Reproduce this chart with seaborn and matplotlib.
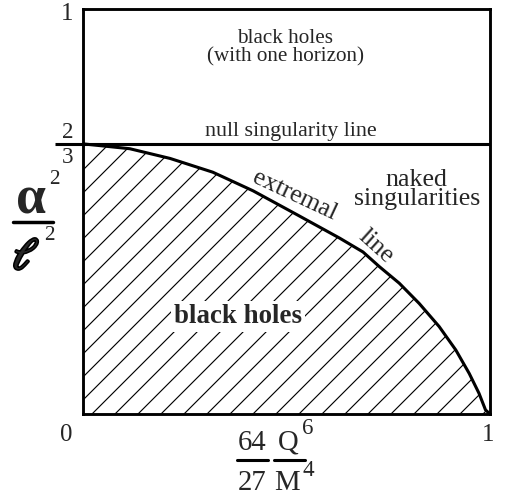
import matplotlib
matplotlib.use("Agg")
import matplotlib.pyplot as plt
import matplotlib.patheffects as pe
from matplotlib.lines import Line2D
import seaborn as sns
import pandas as pd

# Extremal line: alpha^2/l^2 versus 64 Q^6 / (27 M^4)
charge_ratio = [0.0, 0.115, 0.214, 0.319, 0.418, 0.526, 0.631, 0.688, 0.728,
                0.777, 0.826, 0.875, 0.916, 0.949, 0.973, 0.989, 1.0]
alpha_ratio = [0.667, 0.655, 0.631, 0.597, 0.551, 0.492, 0.434, 0.400, 0.364,
               0.323, 0.273, 0.216, 0.158, 0.100, 0.051, 0.010, 0.0]
null_line_value = 2 / 3
axis_limits = [0, 1]

DPI = 138
W, H = 506, 501

sns.set_theme(style="white")
plt.rcParams["font.family"] = ["Liberation Serif", "DejaVu Serif"]
plt.rcParams["hatch.linewidth"] = 0.6
plt.rcParams["hatch.color"] = "black"

fig = plt.figure(figsize=(W / DPI, H / DPI), dpi=DPI)
fig.patch.set_facecolor("white")

def fx(px):
    return px / W

def fy(py):
    return 1 - py / H

ax = fig.add_axes([fx(83), fy(414), fx(490) - fx(83), fy(9) - fy(414)])
ax.set_facecolor("white")

df = pd.DataFrame({"q": charge_ratio, "a": alpha_ratio})

# hatched black-hole region under the extremal line
ax.fill_between(df["q"], df["a"], 0, facecolor="none", edgecolor="black",
                hatch="//", linewidth=0)
sns.lineplot(data=df, x="q", y="a", ax=ax, color="black", linewidth=1.6,
             sort=False, estimator=None)

# null singularity line, extending out to form the 2/3 fraction bar
ax.plot([-0.069, 1], [null_line_value, null_line_value], color="black",
        linewidth=1.6, clip_on=False, solid_capstyle="butt")

ax.set_xlim(axis_limits)
ax.set_ylim(axis_limits)
ax.set_xticks([])
ax.set_yticks([])
ax.set_xlabel("")
ax.set_ylabel("")
for s in ax.spines.values():
    s.set_color("black")
    s.set_linewidth(1.5)
    s.set_visible(True)

# region labels
ax.text(0.497, 0.905, "black holes\n(with one horizon)", ha="center", va="center",
        fontsize=11, linespacing=0.95)
ax.text(0.51, null_line_value + 0.008, "null singularity line", ha="center",
        va="bottom", fontsize=11.5)
ax.text(0.82, 0.555, "naked\nsingularities", ha="center", va="center",
        fontsize=13.5, linespacing=0.82)
ax.text(0.52, 0.540, "extremal", ha="center", va="center", fontsize=13.5,
        rotation=-25, rotation_mode="anchor")
ax.text(0.72, 0.414, "line", ha="center", va="center", fontsize=13.5,
        rotation=-42, rotation_mode="anchor")
ax.text(0.38, 0.24, "black holes", ha="center", va="center", fontsize=14,
        fontweight="bold",
        bbox=dict(facecolor="white", edgecolor="none", pad=1.5))

# axis value labels
def ftxt(px, py, s, size=12.5, **kw):
    return fig.text(fx(px), fy(py), s, ha="center", va="center", fontsize=size, **kw)

ftxt(67, 14, "1", 13)
ftxt(66, 435, "0", 13)
ftxt(488, 435, "1", 13)
ftxt(68, 133, "2", 12)
ftxt(68, 157, "3", 12)

# vertical axis quantity: alpha^2 / l^2
ftxt(31, 200, "α", 28, fontweight="bold")
ftxt(54, 180, "2", 11)
fig.add_artist(Line2D([fx(13), fx(53)], [fy(222), fy(222)], color="black",
                      linewidth=1.8, transform=fig.transFigure))
ell = ftxt(26, 258, r"$\ell$", 23, math_fontfamily="stix")
ell.set_path_effects([pe.withStroke(linewidth=1.6, foreground="black")])
ftxt(49, 236, "2", 11)

# horizontal axis quantity: 64 Q^6 / (27 M^4)
ftxt(252, 443, "64", 15)
ftxt(288, 443, "Q", 15)
ftxt(308, 429, "6", 12)
fig.add_artist(Line2D([fx(237), fx(268)], [fy(460), fy(460)], color="black",
                      linewidth=1.6, transform=fig.transFigure))
fig.add_artist(Line2D([fx(274), fx(305)], [fy(460), fy(460)], color="black",
                      linewidth=1.6, transform=fig.transFigure))
ftxt(252, 483, "27", 15)
ftxt(287, 483, "M", 15)
ftxt(308, 471, "4", 12)

fig.savefig("out.png", dpi=DPI, facecolor="white")
